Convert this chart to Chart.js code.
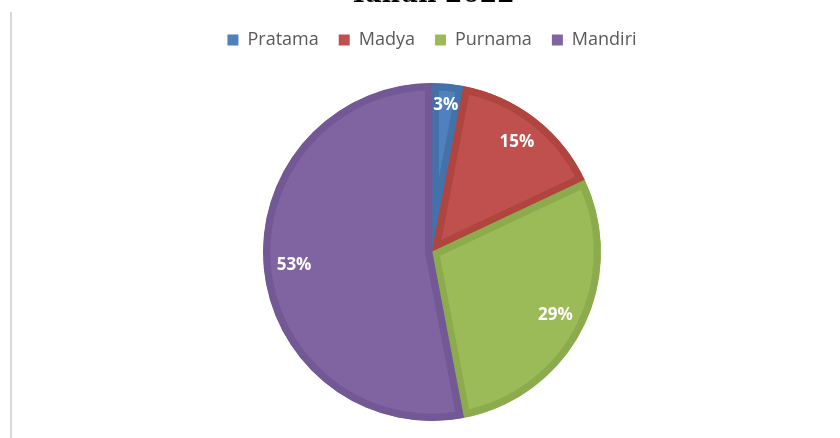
<!DOCTYPE html>
<html>
<head>
<meta charset="utf-8">
<script src="https://cdn.jsdelivr.net/npm/chart.js@4"></script>
<style>
  html, body { margin: 0; padding: 0; background: #fff; }
  #frame { position: relative; width: 840px; height: 438px; overflow: hidden; }
  #edge { position: absolute; left: 10px; top: 12px; width: 2px; height: 426px; background: #d9d9d9; }
  #box { position: absolute; left: 0; top: -34px; width: 840px; height: 472px; }
</style>
</head>
<body>
<div id="frame">
  <div id="edge"></div>
  <div id="box"><canvas id="pieChart"></canvas></div>
</div>
<script>
const categories = ['Pratama', 'Madya', 'Purnama', 'Mandiri'];
const percentages = [3, 15, 29, 53];
const fills = ['#4f81bd', '#c0504d', '#9bbb59', '#8064a2'];
const edges = ['#4372aa', '#b0443f', '#8cab4d', '#725895'];

const ctx = document.getElementById('pieChart').getContext('2d');

// persen di dalam irisan
const sliceLabels = {
  id: 'sliceLabels',
  afterDatasetsDraw(chart) {
    const c = chart.ctx;
    const meta = chart.getDatasetMeta(0);
    c.save();
    c.fillStyle = '#ffffff';
    c.font = 'bold 17px "Open Sans"';
    c.textAlign = 'center';
    c.textBaseline = 'middle';
    meta.data.forEach((arc, i) => {
      const mid = (arc.startAngle + arc.endAngle) / 2;
      const r = arc.outerRadius * (i === 0 ? 0.87 : 0.82);
      c.fillText(percentages[i] + '%', arc.x + Math.cos(mid) * r, arc.y + Math.sin(mid) * r);
    });
    c.restore();
  }
};

// jarak ekstra di bawah legenda
const legendGap = {
  id: 'legendGap',
  beforeInit(chart) {
    const fit = chart.legend.fit;
    chart.legend.fit = function() {
      fit.call(this);
      this.height += 24;
    };
  }
};

new Chart(ctx, {
  type: 'pie',
  data: {
    labels: categories,
    datasets: [{
      data: percentages,
      backgroundColor: fills,
      borderColor: edges,
      borderWidth: 7,
      borderAlign: 'inner'
    }]
  },
  options: {
    responsive: true,
    maintainAspectRatio: false,
    animation: false,
    layout: { padding: { left: 24, right: 0, top: 0, bottom: 17 } },
    plugins: {
      title: {
        display: true,
        text: 'Tahun 2022',
        color: '#000',
        font: { family: '"DejaVu Serif"', size: 25, weight: 'bold' },
        padding: { top: 14, bottom: 1 }
      },
      legend: {
        display: true,
        position: 'top',
        labels: {
          boxWidth: 11,
          boxHeight: 11,
          color: '#595959',
          font: { family: '"Open Sans"', size: 18 },
          padding: 20,
          generateLabels(chart) {
            return Chart.overrides.pie.plugins.legend.labels.generateLabels(chart).map(l => {
              l.strokeStyle = l.fillStyle;
              l.lineWidth = 0;
              return l;
            });
          }
        }
      },
      tooltip: { enabled: false }
    }
  },
  plugins: [sliceLabels, legendGap]
});
</script>
</body>
</html>
